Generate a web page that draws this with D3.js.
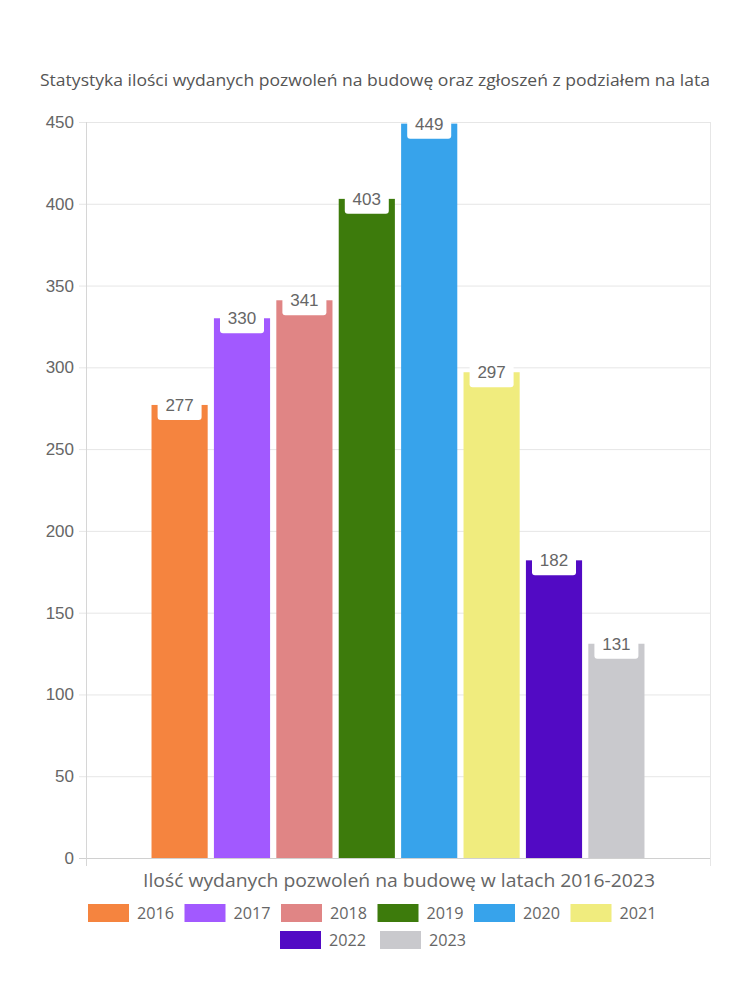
<!DOCTYPE html>
<html><head><meta charset="utf-8">
<script src="https://cdn.jsdelivr.net/npm/d3@7"></script>
<style>body{margin:0;background:#fff}</style>
</head><body>
<script>
const years = ["2016","2017","2018","2019","2020","2021","2022","2023"];
const values = [277,330,341,403,449,297,182,131];
const colors = ["#F5843F","#A259FF","#E08585","#3D7B0C","#37A3EB","#F0EC7E","#520AC4","#C9C9CD"];
const yTicks = [0,50,100,150,200,250,300,350,400,450];
const title = "Statystyka ilości wydanych pozwoleń na budowę oraz zgłoszeń z podziałem na lata";
const xTitle = "Ilość wydanych pozwoleń na budowę w latach 2016-2023";

const W=750,H=1000;
const L=86,R=710,T=122,B=858;
const svg=d3.select("body").append("svg").attr("width",W).attr("height",H);
const fontA="'Open Sans', Lato, sans-serif";
const fontB="'Liberation Sans', Arial, sans-serif";

const y=d3.scaleLinear().domain([0,450]).range([B,T]);
const x=d3.scaleBand().domain(years).range([L,R]).paddingInner(0.1).paddingOuter(1.05);

// gridlines
svg.append("g").selectAll("line").data(yTicks).join("line")
  .attr("x1",L-7).attr("x2",R).attr("y1",d=>y(d)+0.5).attr("y2",d=>y(d)+0.5)
  .attr("stroke",d=>d===0?"#d0d0d0":"#e6e6e6").attr("stroke-width",1);
// vertical lines
svg.append("line").attr("x1",L+0.5).attr("x2",L+0.5).attr("y1",T).attr("y2",B+8).attr("stroke","#d6d6d6");
svg.append("line").attr("x1",R+0.5).attr("x2",R+0.5).attr("y1",T).attr("y2",B+8).attr("stroke","#e6e6e6");

// y tick labels
svg.append("g").selectAll("text").data(yTicks).join("text")
  .attr("x",L-12).attr("y",d=>y(d)).attr("dy","0.35em").attr("text-anchor","end")
  .attr("font-family",fontB).attr("font-size",17).attr("fill","#666").text(d=>d);

// bars
svg.append("g").selectAll("rect").data(values).join("rect")
  .attr("x",(d,i)=>x(years[i])).attr("width",x.bandwidth())
  .attr("y",d=>y(d)).attr("height",d=>B-y(d)).attr("fill",(d,i)=>colors[i]);

// value labels
const lab=svg.append("g").selectAll("g").data(values).join("g")
  .attr("transform",(d,i)=>`translate(${x(years[i])+x.bandwidth()/2},${y(d)})`);
lab.append("rect").attr("x",-22).attr("y",-12).attr("width",44).attr("height",27).attr("rx",3).attr("fill","#fff");
lab.append("text").attr("y",6).attr("text-anchor","middle").attr("font-family",fontB)
  .attr("font-size",17).attr("fill","#666").text(d=>d);

// title
svg.append("text").attr("x",375).attr("y",86).attr("text-anchor","middle")
  .attr("font-family",fontA).attr("font-size",15.5).attr("fill","#555")
  .attr("textLength",670).attr("lengthAdjust","spacingAndGlyphs").text(title);
// x title
svg.append("text").attr("x",399).attr("y",887).attr("text-anchor","middle")
  .attr("font-family",fontA).attr("font-size",17.5).attr("fill","#666")
  .attr("textLength",512).attr("lengthAdjust","spacingAndGlyphs").text(xTitle);

// legend
const rows=[years.slice(0,6),years.slice(6)];
const step=96.5;
rows.forEach((row,ri)=>{
  const start=(ri===0?88:280);
  const g=svg.append("g");
  row.forEach((yr,j)=>{
    const i=years.indexOf(yr);
    const gx=start+j*(ri===0?step:100), gy=904+ri*27;
    g.append("rect").attr("x",gx).attr("y",gy).attr("width",41).attr("height",18).attr("fill",colors[i]);
    g.append("text").attr("x",gx+49).attr("y",gy+9).attr("dy","0.35em")
      .attr("font-family",fontA).attr("font-size",17).attr("fill","#666")
      .attr("textLength",37).attr("lengthAdjust","spacingAndGlyphs").text(yr);
  });
});
</script>
</body></html>
